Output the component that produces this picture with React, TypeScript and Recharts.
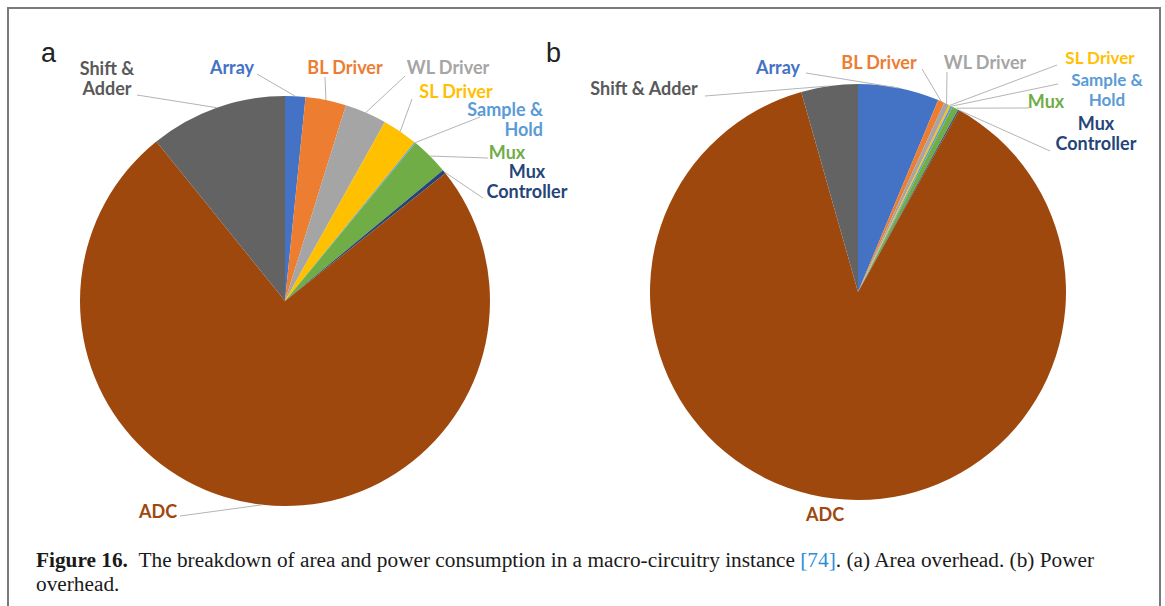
import { PieChart, Pie, Cell } from 'recharts';

// slice order, clockwise from 12 o'clock
const sliceNames = [
  'Array',
  'BL Driver',
  'WL Driver',
  'SL Driver',
  'Sample & Hold',
  'Mux',
  'Mux Controller',
  'ADC',
  'Shift & Adder',
];
const sliceColors = ['#4472C4', '#ED7D31', '#A5A5A5', '#FFC000', '#5B9BD5', '#70AD47', '#264478', '#9E480E', '#636363'];
const labelColors = ['#4472C4', '#ED7D31', '#A5A5A5', '#FFC000', '#5B9BD5', '#70AD47', '#264478', '#9E480E', '#595959'];

// percentages
const areaValues = [1.6, 3.2, 3.3, 2.8, 0.1, 3.0, 0.3, 74.9, 10.8];
const powerValues = [6.3, 0.5, 0.4, 0.15, 0.15, 0.5, 0.1, 87.5, 4.4];

// label placement relative to pie centre: text x, first line y, text lines, anchor, leader line end
type LabelSpot = { x: number; y: number; lines: string[]; anchor?: 'start' | 'middle' | 'end'; lx?: number; ly?: number; size?: number };

const areaLabels: Record<string, LabelSpot> = {
  'Shift & Adder': { x: -178, y: -232, lines: ['Shift &', 'Adder'], lx: -148, ly: -206 },
  Array: { x: -53, y: -233, lines: ['Array'], lx: -28, ly: -227 },
  'BL Driver': { x: 60, y: -233, lines: ['BL Driver'], lx: 40, ly: -224 },
  'WL Driver': { x: 163, y: -233, lines: ['WL Driver'], lx: 120, ly: -225 },
  'SL Driver': { x: 171, y: -209, lines: ['SL Driver'], lx: 127, ly: -202 },
  'Sample & Hold': { x: 258, y: -191, lines: ['Sample &', 'Hold'], anchor: 'end', lx: 195, ly: -184 },
  Mux: { x: 222, y: -148, lines: ['Mux'], lx: 203, ly: -143 },
  'Mux Controller': { x: 242, y: -129, lines: ['Mux', 'Controller'], lx: 198, ly: -103 },
  ADC: { x: -127, y: 211, lines: ['ADC'], lx: -105, ly: 215 },
};

const powerLabels: Record<string, LabelSpot> = {
  'Shift & Adder': { x: -214, y: -203, lines: ['Shift & Adder'], lx: -153, ly: -196 },
  Array: { x: -80, y: -224, lines: ['Array'], lx: -52, ly: -219 },
  'BL Driver': { x: 21, y: -229, lines: ['BL Driver'], lx: 64, ly: -223 },
  'WL Driver': { x: 127, y: -229, lines: ['WL Driver'], lx: 89, ly: -220 },
  'SL Driver': { x: 242, y: -234, lines: ['SL Driver'], lx: 199, ly: -227, size: 17 },
  'Sample & Hold': { x: 249, y: -212, lines: ['Sample &', 'Hold'], lx: 200, ly: -208, size: 17 },
  Mux: { x: 188, y: -190, lines: ['Mux'], lx: 171, ly: -184 },
  'Mux Controller': { x: 238, y: -168, lines: ['Mux', 'Controller'], lx: 192, ly: -141 },
  ADC: { x: -33, y: 223, lines: ['ADC'] },
};

const areaData = sliceNames.map((name, i) => ({ name, value: areaValues[i] }));
const powerData = sliceNames.map((name, i) => ({ name, value: powerValues[i] }));

const RAD = Math.PI / 180;

function makeLabel(spots: Record<string, LabelSpot>) {
  return (props: any) => {
    const { cx, cy, midAngle, outerRadius, index } = props;
    const name = sliceNames[index];
    const spot = spots[name];
    if (!spot) return null;
    const ax = cx + outerRadius * Math.cos(-midAngle * RAD);
    const ay = cy + outerRadius * Math.sin(-midAngle * RAD);
    return (
      <g key={`lbl-${name}`}>
        {spot.lx !== undefined && (
          <line x1={ax} y1={ay} x2={cx + spot.lx} y2={cy + (spot.ly as number)} stroke="#b4b4b4" strokeWidth={1} />
        )}
        <text
          x={cx + spot.x}
          y={cy + spot.y}
          textAnchor={spot.anchor || 'middle'}
          fill={labelColors[index]}
          fontFamily="Lato, 'Open Sans', sans-serif"
          fontWeight={700}
          fontSize={spot.size || 18}
        >
          {spot.lines.map((ln, k) => (
            <tspan key={k} x={cx + spot.x} dy={k === 0 ? 6 : 20}>
              {ln}
            </tspan>
          ))}
        </text>
      </g>
    );
  };
}

export default function App() {
  return (
    <div style={{ position: 'absolute', left: 0, top: 0, width: 1165, height: 606, background: '#fff', overflow: 'hidden' }}>
      <div
        style={{
          position: 'absolute',
          left: 7,
          top: 7,
          width: 1150,
          height: 640,
          border: '2px solid #7a7a7a',
        }}
      />
      <PieChart
        width={1165}
        height={540}
        margin={{ top: 0, right: 0, bottom: 0, left: 0 }}
        style={{ position: 'absolute', left: 0, top: 0 }}
      >
        <Pie
          data={areaData}
          dataKey="value"
          nameKey="name"
          cx={285}
          cy={301}
          outerRadius={205}
          startAngle={90}
          endAngle={-270}
          stroke="none"
          isAnimationActive={false}
          labelLine={false}
          label={makeLabel(areaLabels)}
        >
          {areaData.map((d, i) => (
            <Cell key={d.name} fill={sliceColors[i]} />
          ))}
        </Pie>
        <Pie
          data={powerData}
          dataKey="value"
          nameKey="name"
          cx={858}
          cy={292}
          outerRadius={208}
          startAngle={90}
          endAngle={-270}
          stroke="none"
          isAnimationActive={false}
          labelLine={false}
          label={makeLabel(powerLabels)}
        >
          {powerData.map((d, i) => (
            <Cell key={d.name} fill={sliceColors[i]} />
          ))}
        </Pie>
      </PieChart>
      <div style={{ position: 'absolute', left: 41, top: 38, fontFamily: "'Liberation Sans', Arial, sans-serif", fontSize: 27, color: '#222' }}>a</div>
      <div style={{ position: 'absolute', left: 546, top: 38, fontFamily: "'Liberation Sans', Arial, sans-serif", fontSize: 27, color: '#222' }}>b</div>
      <div
        style={{
          position: 'absolute',
          left: 36,
          top: 548,
          fontFamily: "'Liberation Serif', 'DejaVu Serif', serif",
          fontSize: 21.3,
          lineHeight: '24px',
          color: '#1a1a1a',
          whiteSpace: 'nowrap',
        }}
      >
        <b>Figure 16.</b>&nbsp;&nbsp;The breakdown of area and power consumption in a macro-circuitry instance{' '}
        <span style={{ color: '#2a8fd8' }}>[74]</span>. (a) Area overhead. (b) Power
        <br />
        overhead.
      </div>
    </div>
  );
}
